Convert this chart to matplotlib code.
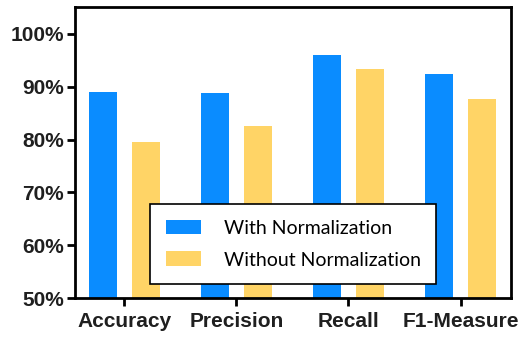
import matplotlib
matplotlib.use("Agg")
import matplotlib.pyplot as plt
import numpy as np
from matplotlib.ticker import FuncFormatter

categories = ["Accuracy", "Precision", "Recall", "F1-Measure"]
with_norm = [89.0, 88.9, 96.1, 92.4]
without_norm = [79.5, 82.5, 93.4, 87.6]
series_labels = ["With Normalization", "Without Normalization"]
y_ticks = [50, 60, 70, 80, 90, 100]

blue = "#0A8CFF"
yellow = "#FFD466"

fig = plt.figure(figsize=(5.23, 3.38), dpi=100)
ax = fig.add_axes([75 / 523, 1 - 298 / 338, 436 / 523, 291 / 338])

x = np.arange(len(categories))
w = 0.25
off = 0.19
ax.bar(x - off, with_norm, width=w, color=blue, label=series_labels[0], zorder=2)
ax.bar(x + off, without_norm, width=w, color=yellow, label=series_labels[1], zorder=2)

ax.set_xlim(-0.44, 3.45)
ax.set_ylim(50, 105.1)
ax.set_yticks(y_ticks)
ax.yaxis.set_major_formatter(FuncFormatter(lambda v, p: f"{v:.0f}%"))
ax.set_xticks(x)
ax.set_xticklabels(categories)

for lab in ax.get_xticklabels() + ax.get_yticklabels():
    lab.set_fontfamily("Liberation Sans")
    lab.set_fontweight("bold")
    lab.set_fontsize(15)
    lab.set_color("#1f1f1f")

for s in ax.spines.values():
    s.set_linewidth(2.0)
    s.set_color("black")
ax.tick_params(axis="both", direction="out", length=6, width=2, color="black")
ax.tick_params(axis="x", pad=4)
ax.tick_params(axis="y", pad=2)

leg = ax.legend(loc="upper left", bbox_to_anchor=((150 - 75) / 436, (298 - 204) / 291),
                prop=dict(family="Lato", size=14), frameon=True, fancybox=False,
                edgecolor="black", framealpha=1, handlelength=1.8, handleheight=0.8,
                handletextpad=1.2, labelspacing=0.75, borderpad=0.8, borderaxespad=0)
leg.get_frame().set_linewidth(1.2)
leg.set_zorder(5)

fig.savefig("out.png", dpi=100)
